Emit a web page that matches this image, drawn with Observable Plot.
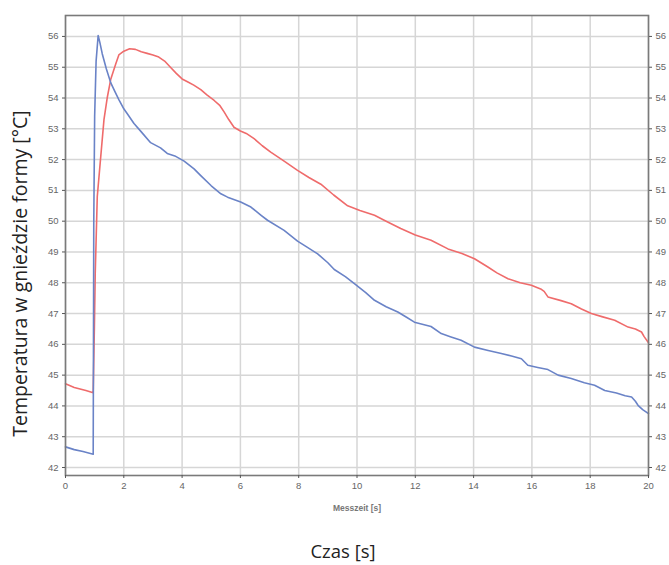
<!DOCTYPE html>
<html>
<head>
<meta charset="utf-8">
<script src="https://cdn.jsdelivr.net/npm/d3@7"></script>
<script src="https://cdn.jsdelivr.net/npm/@observablehq/plot@0.6"></script>
<style>
  body { margin: 0; background: #fff; }
  #chart { width: 669px; height: 565px; }
</style>
</head>
<body>
<div id="chart"></div>
<script>
// Time [s] and temperature [°C] — red series
const redTime = [0, 0.3, 0.5, 0.7, 0.95, 0.99, 1.02, 1.09, 1.2, 1.32, 1.43, 1.55, 1.72, 1.83, 2.0, 2.2, 2.4, 2.6, 2.8, 3.0, 3.2, 3.4, 3.6, 3.8, 4.0, 4.2, 4.4, 4.64, 4.85, 5.1, 5.3, 5.44, 5.6, 5.78, 6.0, 6.2, 6.47, 6.75, 7.04, 7.5, 7.96, 8.35, 8.76, 9.2, 9.68, 10.1, 10.6, 11.0, 11.5, 12.0, 12.54, 13.12, 13.6, 14.03, 14.49, 14.8, 15.18, 15.6, 15.98, 16.3, 16.42, 16.55, 17.0, 17.35, 17.7, 18.04, 18.4, 18.84, 19.3, 19.55, 19.76, 19.85, 20.0];
const redTemp = [44.72, 44.6, 44.55, 44.5, 44.43, 46.5, 48.3, 50.8, 52.0, 53.3, 54.0, 54.6, 55.1, 55.4, 55.52, 55.6, 55.58, 55.5, 55.45, 55.4, 55.33, 55.2, 55.0, 54.8, 54.62, 54.52, 54.42, 54.27, 54.1, 53.92, 53.75, 53.55, 53.3, 53.05, 52.93, 52.85, 52.68, 52.45, 52.24, 51.95, 51.65, 51.42, 51.2, 50.85, 50.5, 50.35, 50.19, 50.0, 49.76, 49.55, 49.38, 49.1, 48.95, 48.78, 48.51, 48.32, 48.13, 48.0, 47.92, 47.8, 47.72, 47.54, 47.42, 47.32, 47.15, 47.0, 46.9, 46.78, 46.56, 46.5, 46.4, 46.25, 46.05];

// blue series
const blueTime = [0, 0.3, 0.6, 0.95, 0.97, 1.0, 1.05, 1.12, 1.18, 1.26, 1.4, 1.55, 1.7, 1.83, 2.0, 2.12, 2.35, 2.6, 2.92, 3.26, 3.49, 3.75, 4.07, 4.41, 4.64, 5.0, 5.33, 5.56, 6.01, 6.36, 6.7, 6.93, 7.5, 7.96, 8.3, 8.65, 9.0, 9.22, 9.6, 9.91, 10.3, 10.6, 11.0, 11.4, 11.7, 11.97, 12.54, 12.89, 13.2, 13.57, 14.03, 14.5, 14.95, 15.3, 15.64, 15.86, 16.2, 16.55, 16.9, 17.35, 17.8, 18.15, 18.5, 18.9, 19.2, 19.42, 19.55, 19.64, 19.8, 20.0];
const blueTemp = [42.67, 42.58, 42.52, 42.43, 50.0, 53.4, 55.2, 56.03, 55.8, 55.44, 54.95, 54.5, 54.2, 53.95, 53.65, 53.49, 53.17, 52.9, 52.55, 52.38, 52.2, 52.12, 51.95, 51.7, 51.48, 51.15, 50.89, 50.78, 50.62, 50.46, 50.2, 50.03, 49.7, 49.35, 49.15, 48.94, 48.65, 48.43, 48.2, 47.97, 47.68, 47.43, 47.22, 47.05, 46.88, 46.72, 46.58, 46.35, 46.25, 46.13, 45.91, 45.8, 45.7, 45.62, 45.53, 45.32, 45.25, 45.18, 45.0, 44.89, 44.75, 44.67, 44.5, 44.42, 44.33, 44.29, 44.15, 44.02, 43.88, 43.75];

const xTicks = [0, 2, 4, 6, 8, 10, 12, 14, 16, 18, 20];
const yTicks = [42, 43, 44, 45, 46, 47, 48, 49, 50, 51, 52, 53, 54, 55, 56];

const yLabel = "Temperatura w gnieździe formy [°C]";
const innerXLabel = "Messzeit [s]";
const xLabel = "Czas [s]";

const red = redTime.map((t, i) => ({t, v: redTemp[i]}));
const blue = blueTime.map((t, i) => ({t, v: blueTemp[i]}));

const tickFont = "Liberation Sans, Arial, sans-serif";
const titleFont = "Open Sans, Noto Sans, sans-serif";

const chart = Plot.plot({
  width: 669,
  height: 565,
  marginLeft: 65,
  marginRight: 21,
  marginTop: 15,
  marginBottom: 90,
  style: {background: "#fff", overflow: "visible"},
  x: {domain: [0, 20]},
  y: {domain: [41.74, 56.68]},
  marks: [
    Plot.gridY(yTicks, {stroke: "#d6d6d6", strokeOpacity: 1, strokeWidth: 1.5}),
    Plot.gridX(xTicks, {stroke: "#d6d6d6", strokeOpacity: 1, strokeWidth: 1.5}),
    Plot.lineY(red, {x: "t", y: "v", stroke: "#ef6b6b", strokeWidth: 1.6}),
    Plot.lineY(blue, {x: "t", y: "v", stroke: "#6a83c7", strokeWidth: 1.6}),
    Plot.frame({stroke: "#7a7a7a", strokeWidth: 1.6}),
    Plot.axisY(yTicks, {anchor: "left", tickSize: 3, tickPadding: 4, fontSize: 9.5, fontFamily: tickFont, fill: "#666", stroke: "#555", label: null}),
    Plot.axisY(yTicks, {anchor: "right", tickSize: 3, tickPadding: 4, fontSize: 9.5, fontFamily: tickFont, fill: "#666", stroke: "#555", label: null}),
    Plot.axisX(xTicks, {anchor: "bottom", tickSize: 3, tickPadding: 4, fontSize: 9.5, fontFamily: tickFont, fill: "#666", stroke: "#555", label: null}),
    Plot.text([innerXLabel], {frameAnchor: "bottom", dy: 33, lineAnchor: "middle", textAnchor: "middle", fontSize: 8.5, fontWeight: "bold", fontFamily: tickFont, fill: "#777"}),
    Plot.text([xLabel], {frameAnchor: "bottom", dx: -14, dy: 77, lineAnchor: "middle", textAnchor: "middle", fontSize: 18.5, fontFamily: titleFont, fill: "#222"}),
    Plot.text([yLabel], {frameAnchor: "left", rotate: -90, dx: -45, dy: 28, lineAnchor: "middle", textAnchor: "middle", fontSize: 19.5, fontFamily: titleFont, fill: "#222"})
  ]
});
document.getElementById("chart").appendChild(chart);
</script>
</body>
</html>
